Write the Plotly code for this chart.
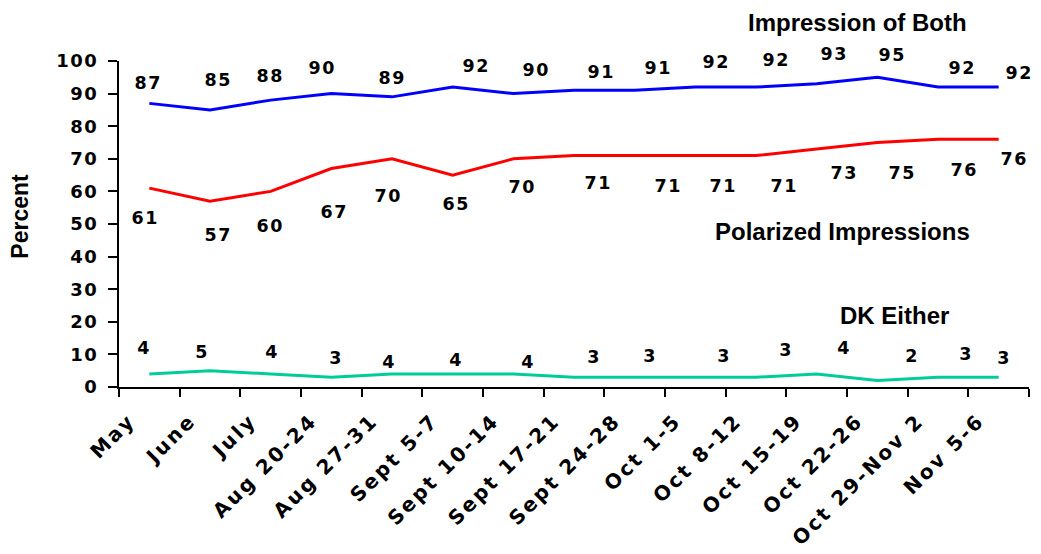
import plotly.graph_objects as go

categories = ["May", "June", "July", "Aug 20-24", "Aug 27-31", "Sept 5-7",
              "Sept 10-14", "Sept 17-21", "Sept 24-28", "Oct 1-5", "Oct 8-12",
              "Oct 15-19", "Oct 22-26", "Oct 29-Nov 2", "Nov 5-6"]
impression_of_both = [87, 85, 88, 90, 89, 92, 90, 91, 91, 92, 92, 93, 95, 92, 92]
polarized_impressions = [61, 57, 60, 67, 70, 65, 70, 71, 71, 71, 71, 73, 75, 76, 76]
dk_either = [4, 5, 4, 3, 4, 4, 4, 3, 3, 3, 3, 4, 2, 3, 3]

y_ticks = [0, 10, 20, 30, 40, 50, 60, 70, 80, 90, 100]

# label offsets (pixels) for the value labels
blue_dx = [-2, 7, -2, -10, -1, 22, 22, 26, 22, 20, 19, 16, 14, 23, 19]
blue_dy = [20, 30, 24, 26, 19, 21, 24, 18, 22, 25, 27, 30, 22, 19, 14]
red_dx = [-5, 7, -2, 2, -5, 2, 8, 23, 32, 27, 27, 26, 24, 25, 14]
red_dy = [-30, -34, -35, -43, -37, -29, -28, -27, -30, -30, -30, -24, -30, -31, -20]
green_dx = [-6, -9, 0, 4, -4, 2, 14, 19, 14, 28, 29, 26, 34, 27, 4]
green_dy = [26, 19, 22, 19, 12, 14, 12, 20, 21, 21, 27, 26, 24, 23, 19]

FONT = "Arial, Liberation Sans, sans-serif"
WIDE = "DejaVu Sans, Verdana, sans-serif"
BLUE = "#0000FF"
RED = "#FF0000"
GREEN = "#00CC99"

fig = go.Figure()
for name, vals, col in [("Impression of Both", impression_of_both, BLUE),
                        ("Polarized Impressions", polarized_impressions, RED),
                        ("DK Either", dk_either, GREEN)]:
    fig.add_trace(go.Scatter(x=categories, y=vals, mode="lines", name=name,
                             line=dict(color=col, width=3), showlegend=False,
                             hoverinfo="x+y+name"))

annotations = []
for vals, dxs, dys in [(impression_of_both, blue_dx, blue_dy),
                       (polarized_impressions, red_dx, red_dy),
                       (dk_either, green_dx, green_dy)]:
    for c, v, dx, dy in zip(categories, vals, dxs, dys):
        annotations.append(dict(x=c, y=v, xref="x", yref="y", text=str(v),
                                showarrow=False, xshift=dx + 1, yshift=dy,
                                font=dict(family=WIDE, size=17.5, color="black", weight="bold")))

annotations.append(dict(x=0.812, y=1.0 + 53 / 326, xref="paper", yref="paper",
                        text="Impression of Both", showarrow=False, xanchor="center",
                        yanchor="top", borderpad=0,
                        font=dict(family=FONT, size=24, color="black", weight="bold")))
for txt, px, py in [("Polarized Impressions", 0.795, 0.478), ("DK Either", 0.852, 0.22)]:
    annotations.append(dict(x=px, y=py, xref="paper", yref="paper", text=txt,
                            showarrow=False, xanchor="center", yanchor="middle",
                            font=dict(family=FONT, size=24, color="black", weight="bold")))

annotations.append(dict(x=-0.109, y=0.525, xref="paper", yref="paper", text="Percent",
                        showarrow=False, textangle=-90, xanchor="center", yanchor="middle",
                        font=dict(family=FONT, size=23, color="black", weight="bold")))

fig.update_layout(
    width=1033, height=546,
    margin=dict(l=111, r=12, t=53, b=167),
    paper_bgcolor="white", plot_bgcolor="white",
    font=dict(family=FONT, color="black"),
    annotations=annotations,
    xaxis=dict(type="category", range=[-0.5, 14.5], showline=True, linecolor="black",
               linewidth=2, ticks="outside", ticklen=8, tickwidth=2, tickcolor="black",
               tickson="boundaries", tickangle=-45, showgrid=False, zeroline=False,
               ticklabelshift=-20, ticklabelstandoff=12,
               tickfont=dict(family=WIDE, size=20, color="black", weight="bold")),
    yaxis=dict(range=[0, 100], tickvals=y_ticks, showline=True, linecolor="black",
               linewidth=2, ticks="outside", ticklen=9, tickwidth=2, tickcolor="black",
               showgrid=False, zeroline=False, ticklabelstandoff=6,
               tickfont=dict(family=WIDE, size=18, color="black", weight="bold")),
)

post = """
var gd = document.getElementById('{plot_id}');
gd.querySelectorAll('.xtick text').forEach(function(t){ t.style.letterSpacing = '2.5px'; });
gd.querySelectorAll('.ytick text').forEach(function(t){ t.style.letterSpacing = '1.5px'; });
gd.querySelectorAll('.annotation-text').forEach(function(t){
  if (/^[0-9]+$/.test(t.textContent)) { t.style.letterSpacing = '1.5px'; }
});
"""

fig.write_html("out.html", post_script=post)
